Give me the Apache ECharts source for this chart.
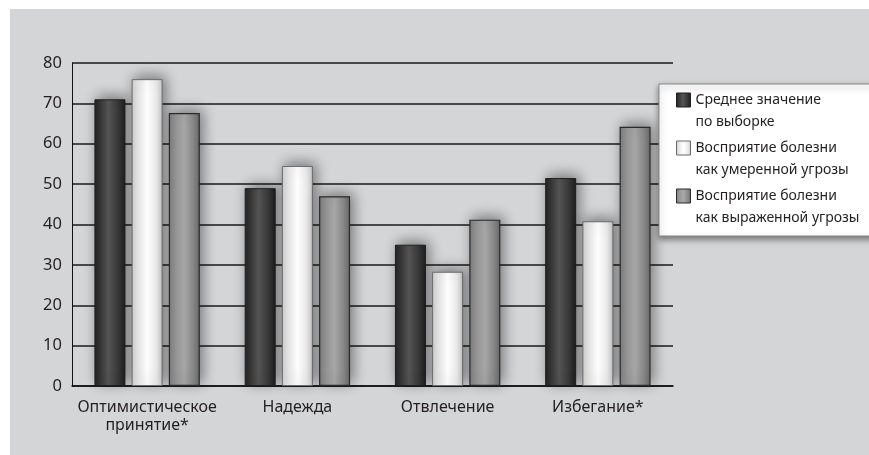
<!DOCTYPE html>
<html><head><meta charset="utf-8">
<script src="https://cdn.jsdelivr.net/npm/echarts@6/dist/echarts.min.js"></script>
<style>
html,body{margin:0;padding:0;background:#fff;width:869px;height:455px;overflow:hidden}
#c{position:absolute;left:10px;top:9px;width:859px;height:446px;background:#d4d5d7}
</style></head><body>
<div id="c"></div>
<script>
var categories = ['Оптимистическое\nпринятие*', 'Надежда', 'Отвлечение', 'Избегание*'];
var seriesNames = ['Среднее значение\nпо выборке', 'Восприятие болезни\nкак умеренной угрозы', 'Восприятие болезни\nкак выраженной угрозы'];
var sampleMean = [71, 49, 35, 51.5];
var moderateThreat = [76, 54.5, 28.3, 40.8];
var severeThreat = [67.6, 47, 41.2, 64.2];
var yTicks = [0, 10, 20, 30, 40, 50, 60, 70, 80];

var FONT = '"Noto Sans", "Open Sans", sans-serif';
function grad(stops){
  return new echarts.graphic.LinearGradient(0,0,1,0, stops.map(function(s){return {offset:s[0], color:s[1]};}));
}
var styles = [
  {color: grad([[0,'#242424'],[0.15,'#333'],[0.45,'#555'],[0.75,'#3a3a3a'],[1,'#1e1e1e']]), borderColor:'#1e1e1e', borderWidth:1},
  {color: grad([[0,'#cfcfcf'],[0.2,'#e8e8e8'],[0.5,'#ffffff'],[0.8,'#eaeaea'],[1,'#c8c8c8']]), borderColor:'#6a6a6a', borderWidth:1},
  {color: grad([[0,'#7e7e7e'],[0.25,'#9a9a9a'],[0.5,'#a8a8a8'],[0.8,'#888'],[1,'#6a6a6a']]), borderColor:'#2a2a2a', borderWidth:1.2}
];
var data = [sampleMean, moderateThreat, severeThreat];
// square in the top part of a taller icon box, so it lines up with the first text line
var legendIcon = 'path://M0,0L14,0L14,14L0,14Z M7,36L7,36';
var chart = echarts.init(document.getElementById('c'), null, {renderer:'canvas'});
chart.setOption({
  animation:false,
  backgroundColor:'transparent',
  textStyle:{fontFamily:FONT},
  grid:{left:62, right:196, top:54, bottom:69},
  legend:{
    orient:'vertical', left:649, top:75,
    padding:[5,40,7,17],
    backgroundColor:'#fff', borderColor:'#888', borderWidth:1,
    shadowBlur:6, shadowColor:'rgba(0,0,0,0.45)', shadowOffsetX:0, shadowOffsetY:3,
    icon: legendIcon,
    itemWidth:14, itemHeight:36, itemGap:4, itemStyle:{borderWidth:1, shadowBlur:0},
    textStyle:{fontFamily:FONT, fontSize:14, color:'#231f20', lineHeight:22},
    data: seriesNames
  },
  xAxis:{
    type:'category', data:categories,
    axisLine:{lineStyle:{color:'#111', width:1.5}},
    axisTick:{inside:true, length:8, lineStyle:{color:'#111', width:1.5}},
    axisLabel:{interval:0, fontFamily:FONT, fontSize:16, color:'#231f20', lineHeight:18, margin:12}
  },
  yAxis:{
    type:'value', min:yTicks[0], max:yTicks[yTicks.length-1], interval:10,
    axisLine:{show:true, lineStyle:{color:'#111', width:1}},
    axisTick:{show:false},
    axisLabel:{fontFamily:FONT, fontSize:16.5, color:'#231f20', margin:10},
    splitLine:{lineStyle:{color:'#1a1a1a', width:1.5}}
  },
  series: seriesNames.map(function(n,i){
    return {
      name:n, type:'bar', data:data[i], barWidth:31, barGap:'20%',
      itemStyle: Object.assign({shadowBlur:14, shadowColor:'rgba(0,0,0,0.45)', shadowOffsetX:3, shadowOffsetY:-3}, styles[i])
    };
  })
});
</script></body></html>
